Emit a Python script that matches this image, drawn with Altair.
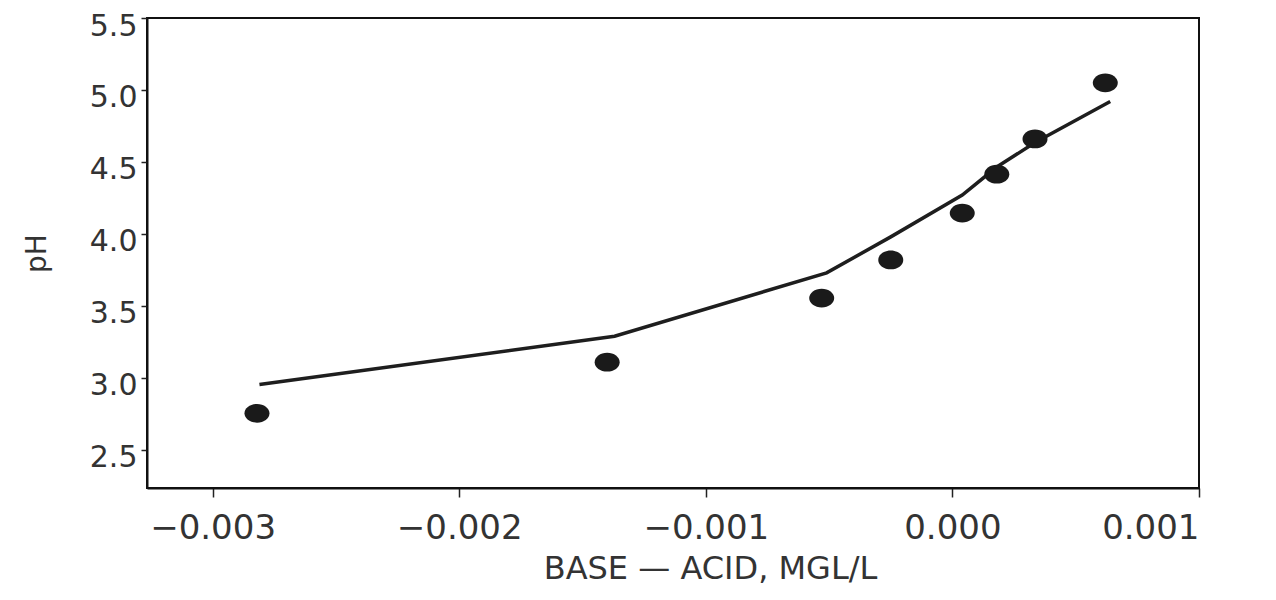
import altair as alt
import pandas as pd

# Observed data points (base - acid vs pH)
obs_x = [-0.00282, -0.00140, -0.00053, -0.00025, 0.00004, 0.00018, 0.000335, 0.00062]
obs_ph = [2.755, 3.11, 3.555, 3.82, 4.145, 4.415, 4.66, 5.05]

# Fitted curve vertices
fit_x = [-0.00281, -0.00137, -0.00051, -0.00025, 0.00004, 0.00018, 0.000335, 0.00064]
fit_ph = [2.955, 3.29, 3.73, 3.98, 4.27, 4.465, 4.635, 4.92]

x_ticks = [-0.003, -0.002, -0.001, 0.0, 0.001]
y_ticks = [2.5, 3.0, 3.5, 4.0, 4.5, 5.0, 5.5]

obs = pd.DataFrame({"x": obs_x, "ph": obs_ph})
fit = pd.DataFrame({"x": fit_x, "ph": fit_ph})

FONT = "DejaVu Sans"

xscale = alt.Scale(domain=[-0.003266, 0.001], nice=False, zero=False)
yscale = alt.Scale(domain=[2.236, 5.5], nice=False, zero=False)

xaxis = alt.Axis(
    values=x_ticks, format=".3f", title="BASE — ACID, MGL/L",
    grid=False, tickSize=9, tickColor="#222", tickWidth=1.5,
    domainColor="#111", domainWidth=2,
    labelFont=FONT, labelFontSize=34, labelColor="#333", labelPadding=14,
    titleFont=FONT, titleFontSize=32, titleFontWeight="normal", titleColor="#333",
    titleX=563, titleY=80, titleBaseline="middle", titleAlign="center",
    labelExpr="replace(datum.label, '-', '\u2212')",
)
yaxis = alt.Axis(
    values=y_ticks, format=".1f", title="pH",
    grid=False, tickSize=6, tickColor="#222", tickWidth=1.5,
    domainColor="#111", domainWidth=2,
    labelFont=FONT, labelFontSize=30, labelColor="#333", labelPadding=4,
    labelOffset=8,
    titleFont=FONT, titleFontSize=28, titleFontWeight="normal", titleColor="#333",
    titleX=-110, titleY=235, titleAngle=-90, titleAlign="center", titleBaseline="middle",
)

line = alt.Chart(fit).mark_line(color="#1e1e1e", strokeWidth=3.5).encode(
    x=alt.X("x:Q", scale=xscale, axis=xaxis),
    y=alt.Y("ph:Q", scale=yscale, axis=yaxis),
)

points = alt.Chart(obs).mark_point(
    shape="M-1,0A1,0.75,0,1,0,1,0A1,0.75,0,1,0,-1,0Z",
    filled=True, size=625, color="#1a1a1a", opacity=1,
).encode(
    x=alt.X("x:Q", scale=xscale),
    y=alt.Y("ph:Q", scale=yscale),
)

chart = (line + points).properties(
    width=1052, height=470,
    autosize=alt.AutoSizeParams(type="none"),
    padding={"left": 139, "top": 10, "right": 60, "bottom": 100},
).configure(
    background="white",
    view=alt.ViewConfig(stroke="#111", strokeWidth=2),
)

chart.save("out.html", embed_options={"renderer": "svg", "actions": False})
